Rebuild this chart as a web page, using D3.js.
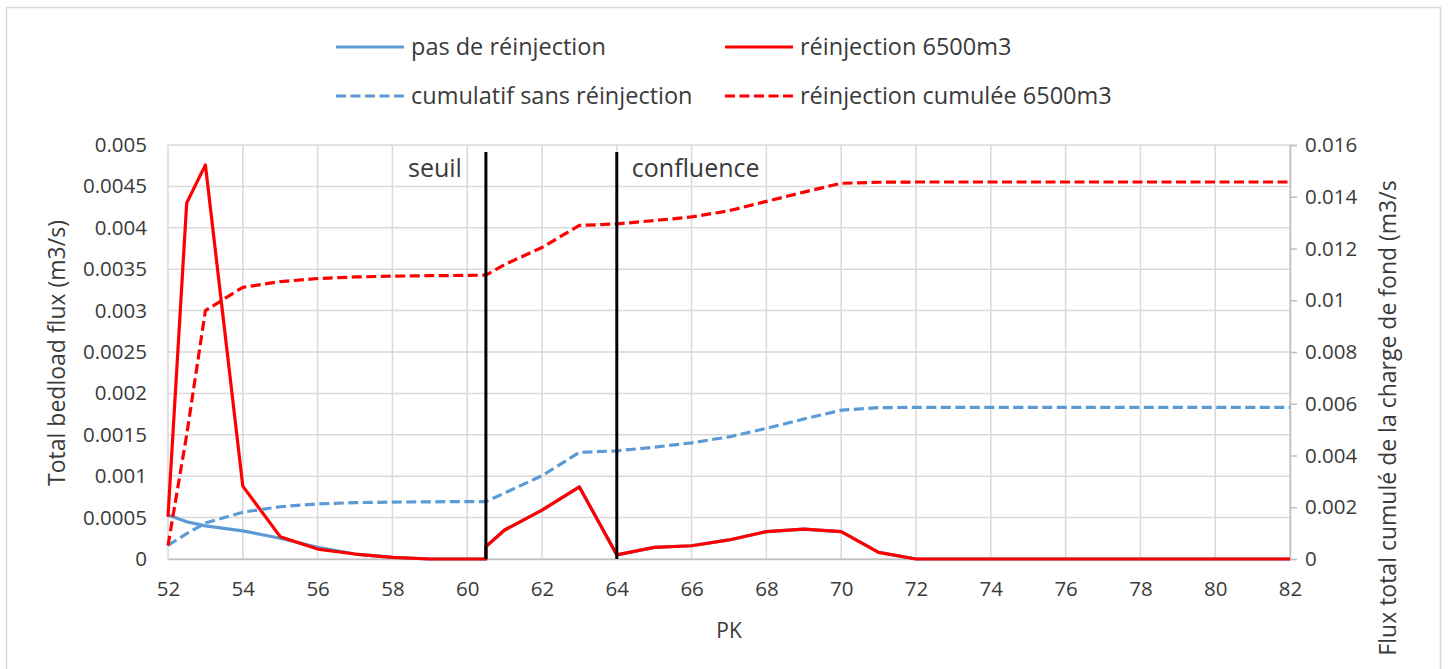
<!DOCTYPE html>
<html>
<head>
<meta charset="utf-8">
<script src="https://cdn.jsdelivr.net/npm/d3@7"></script>
<style>
  html, body { margin: 0; padding: 0; background: #ffffff; }
  svg { display: block; }
  text { font-family: "Open Sans", "Noto Sans", sans-serif; fill: #3a3a3a; }
</style>
</head>
<body>
<svg id="chart" width="1448" height="669"></svg>
<script>
// PK positions (60.5 appears twice: the seuil creates a jump in the flux)
const pk = [52, 52.5, 53, 54, 55, 56, 57, 58, 59, 60, 60.5, 60.5,
            61, 62, 63, 64, 65, 66, 67, 68, 69, 70, 71, 72,
            73, 74, 75, 76, 77, 78, 79, 80, 81, 82];

// Total bedload flux (m3/s), left axis
const pasDeReinjection = [0.00053, 0.00045, 0.0004, 0.00034, 0.00025, 0.00014, 0.00006, 0.00002, 0, 0, 0, 0.00015,
                          0.00035, 0.00059, 0.00087, 0.00005, 0.00014, 0.00016, 0.00023, 0.00033, 0.00036, 0.00033, 0.00008, 0,
                          0, 0, 0, 0, 0, 0, 0, 0, 0, 0];
const reinjection6500 = [0.00051, 0.0043, 0.00476, 0.00088, 0.00027, 0.00012, 0.00006, 0.00002, 0, 0, 0, 0.00015,
                         0.00035, 0.00059, 0.00087, 0.00005, 0.00014, 0.00016, 0.00023, 0.00033, 0.00036, 0.00033, 0.00008, 0,
                         0, 0, 0, 0, 0, 0, 0, 0, 0, 0];

// Cumulative bedload flux (m3/s), right axis
const cumulSansReinjection = [0.00053, 0.00098, 0.00139, 0.00181, 0.00202, 0.00213, 0.00218, 0.0022, 0.00221, 0.00222, 0.00222, 0.00222,
                              0.00255, 0.00322, 0.00412, 0.00418, 0.00432, 0.00449, 0.00472, 0.00505, 0.00541, 0.00575, 0.00585, 0.00586,
                              0.00586, 0.00586, 0.00586, 0.00586, 0.00586, 0.00586, 0.00586, 0.00586, 0.00586, 0.00586];
const reinjectionCumulee6500 = [0.00052, 0.0048, 0.0096, 0.0105, 0.01072, 0.01084, 0.0109, 0.01093, 0.01095, 0.01096, 0.01097, 0.01097,
                                0.01138, 0.01204, 0.01289, 0.01295, 0.01308, 0.01322, 0.01346, 0.01382, 0.01418, 0.01452, 0.01456, 0.01457,
                                0.01457, 0.01457, 0.01457, 0.01457, 0.01457, 0.01457, 0.01457, 0.01457, 0.01457, 0.01457];

// Axis ticks
const xTicks = [52, 54, 56, 58, 60, 62, 64, 66, 68, 70, 72, 74, 76, 78, 80, 82];
const yLeftTicks = [0, 0.0005, 0.001, 0.0015, 0.002, 0.0025, 0.003, 0.0035, 0.004, 0.0045, 0.005];
const yRightTicks = [0, 0.002, 0.004, 0.006, 0.008, 0.01, 0.012, 0.014, 0.016];

// Section markers
const markers = [
  { pk: 60.5, label: "seuil", side: "left" },
  { pk: 64, label: "confluence", side: "right" }
];

const legendItems = [
  { label: "pas de réinjection", color: "#5B9BD5", dashed: false },
  { label: "réinjection 6500m3", color: "#FF0000", dashed: false },
  { label: "cumulatif sans réinjection", color: "#5B9BD5", dashed: true },
  { label: "réinjection cumulée 6500m3", color: "#FF0000", dashed: true }
];

const svg = d3.select("#chart");
const W = 1448, H = 669;
const plot = { left: 168, right: 1290, top: 145, bottom: 559 };

svg.append("rect").attr("width", W).attr("height", H).attr("fill", "#ffffff");
// chart frame
svg.append("rect")
  .attr("x", 6.5).attr("y", 7.5)
  .attr("width", 1434).attr("height", 720)
  .attr("fill", "none").attr("stroke", "#d9d9d9").attr("stroke-width", 1.5);

const x = d3.scaleLinear().domain([52, 82]).range([plot.left, plot.right]);
const yL = d3.scaleLinear().domain([0, 0.005]).range([plot.bottom, plot.top]);
const yR = d3.scaleLinear().domain([0, 0.016]).range([plot.bottom, plot.top]);

// Gridlines
const grid = svg.append("g").attr("class", "grid");
grid.selectAll("line.h").data(yLeftTicks).join("line")
  .attr("x1", plot.left).attr("x2", plot.right)
  .attr("y1", d => yL(d)).attr("y2", d => yL(d))
  .attr("stroke", "#d9d9d9").attr("stroke-width", 1.5);
grid.selectAll("line.v").data(xTicks).join("line")
  .attr("x1", d => x(d)).attr("x2", d => x(d))
  .attr("y1", plot.top).attr("y2", plot.bottom)
  .attr("stroke", "#d9d9d9").attr("stroke-width", 1.5);

const tickFont = sel => sel.attr("font-size", 20.5).attr("fill", "#3a3a3a")
  .style("font-family", "'Open Sans', sans-serif");

// X axis
const xAxis = svg.append("g")
  .attr("transform", `translate(0,${plot.bottom})`)
  .call(d3.axisBottom(x).tickValues(xTicks).tickSize(0).tickPadding(22).tickFormat(d3.format("d")));
xAxis.select(".domain").attr("stroke", "#bfbfbf").attr("stroke-width", 1.5);
xAxis.selectAll("text").call(tickFont);

// Left axis
const fmt = d => d === 0 ? "0" : String(+d.toPrecision(6));
const yLeftAxis = svg.append("g")
  .attr("transform", `translate(${plot.left},0)`)
  .call(d3.axisLeft(yL).tickValues(yLeftTicks).tickSize(0).tickPadding(21).tickFormat(fmt));
yLeftAxis.select(".domain").remove();
yLeftAxis.selectAll("text").call(tickFont);

// Right axis
const yRightAxis = svg.append("g")
  .attr("transform", `translate(${plot.right},0)`)
  .call(d3.axisRight(yR).tickValues(yRightTicks).tickSize(7).tickPadding(8).tickFormat(fmt));
yRightAxis.select(".domain").attr("stroke", "#bfbfbf").attr("stroke-width", 1.5);
yRightAxis.selectAll(".tick line").attr("stroke", "#bfbfbf").attr("stroke-width", 1.5);
yRightAxis.selectAll("text").call(tickFont);

// Axis titles
svg.append("text")
  .attr("transform", `translate(65,353) rotate(-90)`)
  .attr("text-anchor", "middle").attr("font-size", 23)
  .text("Total bedload flux (m3/s)");
svg.append("text")
  .attr("transform", `translate(1396,418) rotate(-90)`)
  .attr("text-anchor", "middle").attr("font-size", 23)
  .text("Flux total cumulé de la charge de fond (m3/s");
svg.append("text")
  .attr("x", (plot.left + plot.right) / 2).attr("y", 638)
  .attr("text-anchor", "middle").attr("font-size", 21)
  .text("PK");

// Series
const pts = vals => pk.map((p, i) => [p, vals[i]]);
const lineL = d3.line().x(d => x(d[0])).y(d => yL(d[1]));
const lineR = d3.line().x(d => x(d[0])).y(d => yR(d[1]));

const series = [
  { data: pts(pasDeReinjection), gen: lineL, color: "#5B9BD5", dashed: false },
  { data: pts(reinjection6500), gen: lineL, color: "#FF0000", dashed: false },
  { data: pts(cumulSansReinjection), gen: lineR, color: "#5B9BD5", dashed: true },
  { data: pts(reinjectionCumulee6500), gen: lineR, color: "#FF0000", dashed: true }
];
svg.append("g").selectAll("path").data(series).join("path")
  .attr("d", d => d.gen(d.data))
  .attr("fill", "none")
  .attr("stroke", d => d.color)
  .attr("stroke-width", 3.2)
  .attr("stroke-linejoin", "round")
  .attr("stroke-dasharray", d => d.dashed ? "10,4.5" : null);

// Section markers
const mk = svg.append("g");
mk.selectAll("line").data(markers).join("line")
  .attr("x1", d => x(d.pk)).attr("x2", d => x(d.pk))
  .attr("y1", 152).attr("y2", plot.bottom)
  .attr("stroke", "#000000").attr("stroke-width", 3);
mk.selectAll("text").data(markers).join("text")
  .attr("x", d => d.side === "left" ? x(d.pk) - 24 : x(d.pk) + 15)
  .attr("y", 177)
  .attr("text-anchor", d => d.side === "left" ? "end" : "start")
  .attr("font-size", 25)
  .attr("fill", "#262626")
  .text(d => d.label);

// Legend
const legendPos = [
  { x: 336, y: 47 }, { x: 725, y: 47 },
  { x: 336, y: 96 }, { x: 725, y: 96 }
];
const lg = svg.append("g").selectAll("g").data(legendItems).join("g")
  .attr("transform", (d, i) => `translate(${legendPos[i].x},${legendPos[i].y})`);
lg.append("line")
  .attr("x1", 0).attr("x2", 68).attr("y1", 0).attr("y2", 0)
  .attr("stroke", d => d.color).attr("stroke-width", 3.2)
  .attr("stroke-dasharray", d => d.dashed ? "10,4.5" : null);
lg.append("text")
  .attr("x", 75).attr("y", 0).attr("dy", "0.35em")
  .attr("font-size", 23.5)
  .text(d => d.label);
</script>
</body>
</html>
